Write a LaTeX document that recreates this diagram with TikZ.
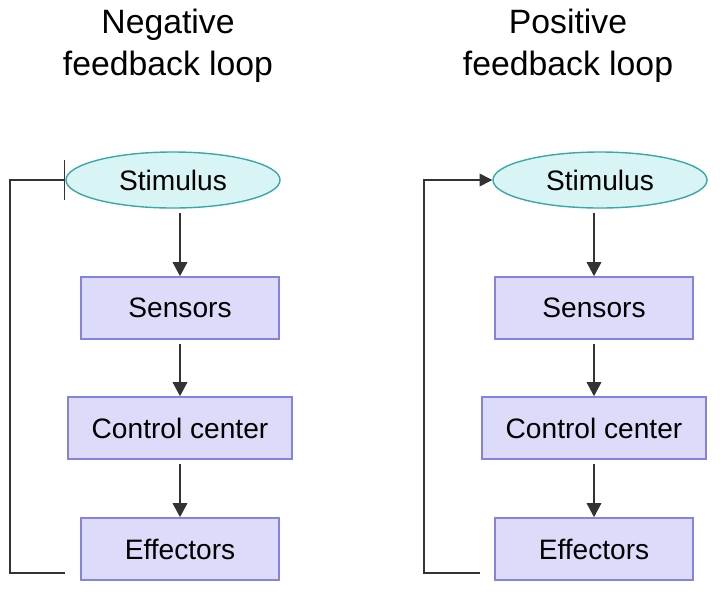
\documentclass[tikz,border=0pt]{standalone}
\usepackage{fontspec}
\setmainfont{Liberation Sans}
\usetikzlibrary{shapes.geometric,arrows.meta,positioning}
\definecolor{stimfill}{HTML}{D9F4F4}
\definecolor{stimdraw}{HTML}{3AA8A8}
\definecolor{boxfill}{HTML}{DCDCFA}
\definecolor{boxdraw}{HTML}{8484E0}
\definecolor{linegray}{HTML}{333333}
\tikzset{
  stimnode/.style={ellipse,draw=stimdraw,fill=stimfill,line width=1pt,inner sep=0pt,minimum width=5.35cm,minimum height=1.4cm,font=\fontsize{20}{22}\selectfont},
  stagebox/.style={rectangle,draw=boxdraw,fill=boxfill,line width=1pt,minimum width=4.95cm,minimum height=1.55cm,font=\fontsize{20}{22}\selectfont},
  widebox/.style={stagebox,minimum width=5.6cm},
  titlenode/.style={align=center,font=\fontsize{24}{30}\selectfont},
  flow/.style={-{Triangle[length=10pt,width=10pt]},line width=2pt,linegray,shorten <=3pt},
  loopline/.style={line width=1pt,linegray}
}
\begin{document}
\begin{tikzpicture}[x=0.025cm,y=-0.025cm]
  \useasboundingbox (0,0) rectangle (720,595);
  % negative loop
  \node[titlenode] (negtitle) at (168,46) {Negative\\feedback loop};
  \node[stimnode] (nstim) at (173,180) {Stimulus};
  \node[stagebox] (nsens) at (180,308) {Sensors};
  \node[widebox] (nctrl) at (180,428) {Control center};
  \node[stagebox] (neff) at (180,549) {Effectors};
  \draw[flow] (nstim.south -| nsens) -- (nsens);
  \draw[flow] (nsens) -- (nctrl);
  \draw[flow] (nctrl) -- (neff);
  \coordinate (nbot) at (65,573);
  \coordinate (ntop) at (65,180);
  \draw[loopline,-{Bar[width=28pt]}] (nbot) -- (10,573) -- (10,180) -- (ntop);
  % positive loop
  \node[titlenode] (postitle) at (568,46) {Positive\\feedback loop};
  \node[stimnode] (pstim) at (600,180) {Stimulus};
  \node[stagebox] (psens) at (594,308) {Sensors};
  \node[widebox] (pctrl) at (594,428) {Control center};
  \node[stagebox] (peff) at (594,549) {Effectors};
  \draw[flow] (pstim.south -| psens) -- (psens);
  \draw[flow] (psens) -- (pctrl);
  \draw[flow] (pctrl) -- (peff);
  \coordinate (pbot) at (480,573);
  \draw[loopline,-{Triangle[length=9pt,width=9pt]}] (pbot) -- (424,573) -- (424,180) -- (pstim.west);
\end{tikzpicture}
\end{document}
